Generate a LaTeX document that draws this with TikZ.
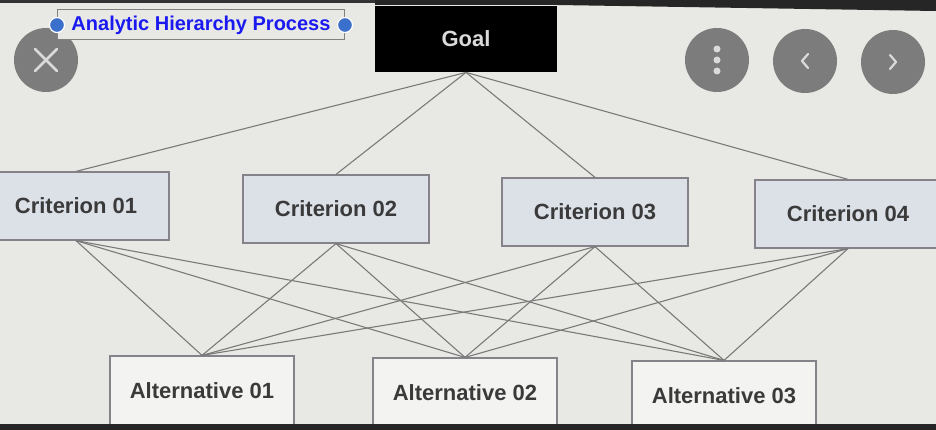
\documentclass[tikz,border=0pt]{standalone}
\usepackage{fontspec}
\setmainfont{Liberation Sans}
\usetikzlibrary{positioning, calc}

\definecolor{screenbg}{HTML}{E8E8E4}
\definecolor{critfill}{HTML}{DCE0E7}
\definecolor{altfill}{HTML}{F3F3F1}
\definecolor{boxline}{HTML}{85828A}
\definecolor{wire}{HTML}{7A7A7A}
\definecolor{labeltext}{HTML}{3A3A3A}
\definecolor{btngray}{HTML}{7C7C7C}
\definecolor{icongray}{HTML}{DADADA}
\definecolor{titleblue}{HTML}{1A1AF0}
\definecolor{handleblue}{HTML}{3A70CC}

\begin{document}
\begin{tikzpicture}[x=1pt, y=-1pt, thick]
    % Define block styles
    \tikzstyle{crit} = [rectangle, draw=boxline, fill=critfill, line width=1.2pt, minimum width=186pt, minimum height=68pt, text=labeltext, font=\fontsize{22}{26}\selectfont\bfseries]
    \tikzstyle{alt} = [crit, fill=altfill, minimum width=184pt, minimum height=70pt]
    \tikzstyle{goalbox} = [rectangle, fill=black, minimum width=182pt, minimum height=66pt, text=icongray, font=\fontsize{22}{26}\selectfont\bfseries]
    \tikzstyle{conn} = [draw=wire, line width=1.1pt]
    \tikzstyle{btn} = [circle, fill=btngray, minimum size=64pt, inner sep=0pt]
    \tikzstyle{icon} = [draw=icongray, line width=2.8pt, line cap=round, line join=round]

    % Screen
    \fill[screenbg] (0,0) rectangle (936,430);
    \useasboundingbox (0,0) rectangle (936,430);
    \fill[black!80] (0,0) rectangle (936,3);
    \fill[black!85] (375,0) -- (936,0) -- (936,11) -- (557,5) -- (375,5) -- cycle;

    % Place nodes
    \node [goalbox] (goal) at (466,39) {Goal};
    \node [crit] (crit1) at (76,206) {Criterion 01};
    \node [crit] (crit2) at (336,209) {Criterion 02};
    \node [crit] (crit3) at (595,212) {Criterion 03};
    \node [crit] (crit4) at (848,214) {Criterion 04};
    \node [alt] (alt1) at (202,391) {Alternative 01};
    \node [alt] (alt2) at (465,393) {Alternative 02};
    \node [alt] (alt3) at (724,396) {Alternative 03};

    % Draw connections
    \draw [conn] (goal.south) -- (crit1.north);
    \draw [conn] (goal.south) -- (crit2.north);
    \draw [conn] (goal.south) -- (crit3.north);
    \draw [conn] (goal.south) -- (crit4.north);
    \draw [conn] (crit1.south) -- (alt1.north);
    \draw [conn] (crit1.south) -- (alt2.north);
    \draw [conn] (crit1.south) -- (alt3.north);
    \draw [conn] (crit2.south) -- (alt1.north);
    \draw [conn] (crit2.south) -- (alt2.north);
    \draw [conn] (crit2.south) -- (alt3.north);
    \draw [conn] (crit3.south) -- (alt1.north);
    \draw [conn] (crit3.south) -- (alt2.north);
    \draw [conn] (crit3.south) -- (alt3.north);
    \draw [conn] (crit4.south) -- (alt1.north);
    \draw [conn] (crit4.south) -- (alt2.north);
    \draw [conn] (crit4.south) -- (alt3.north);

    % Screen buttons
    \node [btn] (close) at (46,60) {};
    \draw [icon] ($(close)+(-11,-11)$) -- ($(close)+(11,11)$);
    \draw [icon] ($(close)+(-11,11)$) -- ($(close)+(11,-11)$);
    \node [btn] (menu) at (717,60) {};
    \fill [icongray] ($(menu)+(0,-11)$) circle (3.5pt);
    \fill [icongray] (menu) circle (3.5pt);
    \fill [icongray] ($(menu)+(0,11)$) circle (3.5pt);
    \node [btn] (prev) at (805,61) {};
    \draw [icon, line width=2.2pt] ($(prev)+(3,-7)$) -- ($(prev)+(-3,0)$) -- ($(prev)+(3,7)$);
    \node [btn] (next) at (893,62) {};
    \draw [icon, line width=2.2pt] ($(next)+(-3,-7)$) -- ($(next)+(3,0)$) -- ($(next)+(-3,7)$);

    % Title tag
    \node [rectangle, draw=gray, fill=screenbg, line width=1pt, minimum width=287pt, minimum height=30pt, text=titleblue, font=\fontsize{20}{24}\selectfont\bfseries] (title) at (201,25) {Analytic Hierarchy Process};
    \filldraw [fill=handleblue, draw=white, line width=1.2pt] (title.west) circle (7.5pt);
    \filldraw [fill=handleblue, draw=white, line width=1.2pt] (title.east) circle (7.5pt);

    % Bottom frame
    \fill[black!85] (0,424) rectangle (936,430);
\end{tikzpicture}
\end{document}
